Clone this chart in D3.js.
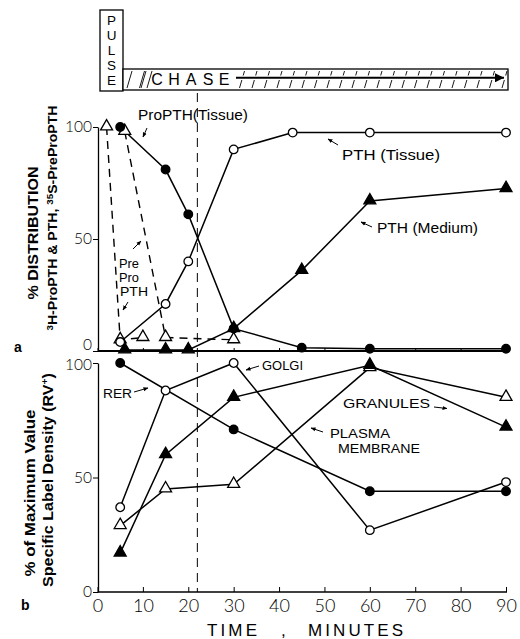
<!DOCTYPE html>
<html><head><meta charset="utf-8">
<script src="https://cdn.jsdelivr.net/npm/d3@7"></script>
<style>body{margin:0;background:#fff}svg{display:block}</style>
</head><body><svg id="c" width="520" height="639"></svg>
<script>
// ---------- data ----------
const xTicks = [0,10,20,30,40,50,60,70,80,90];
const yTicks = [0,50,100];
// panel a
const proPTH_t = [5,15,20,30,45,60,90];
const proPTH_v = [100,81,61,10,1.5,1,1];
const pthTissue_t = [5,15,20,30,43,60,90];
const pthTissue_v = [4,21,40,90,97.5,97.5,97.5];
const pthMedium_t = [6,15,20,30,45,60,90];
const pthMedium_v = [0.5,0.5,0.5,10,36,67,72.5];
const prePro1_t = [2,5,10];
const prePro1_v = [100,5,6];
const prePro2_t = [6,15,30];
const prePro2_v = [98,6,5];
// panel b
const bTimes = [5,15,30,60,90];
const rer_t = [5,30,60,90];
const rer_v = [100,71,44,44];
const golgi_v = [37,88,100,27,48];
const plasma_v = [17,60,85,99,72];
const granules_v = [29,45,47,98,85];
const chaseMark = 22;

// ---------- setup ----------
const svg = d3.select("#c");
const x = d3.scaleLinear().domain([0,90]).range([97.5,506]);
const ya = d3.scaleLinear().domain([0,100]).range([351,127]);
const yb = d3.scaleLinear().domain([0,100]).range([592,363]);
const sans = "'Liberation Sans', Arial, sans-serif";
const light = "Lato, 'DejaVu Sans', sans-serif";

const defs = svg.append("defs");
defs.append("marker").attr("id","ah").attr("viewBox","0 0 10 10")
  .attr("refX",9).attr("refY",5).attr("markerWidth",5).attr("markerHeight",5)
  .attr("orient","auto").append("path").attr("d","M0,1L10,5L0,9Z").attr("fill","#000");
defs.append("marker").attr("id","big").attr("viewBox","0 0 10 10")
  .attr("refX",10).attr("refY",5).attr("markerWidth",16).attr("markerHeight",9)
  .attr("markerUnits","userSpaceOnUse")
  .attr("orient","auto").append("path").attr("d","M0,0L10,5L0,10Z").attr("fill","#000");

// ---------- pulse / chase ----------
const hdr = svg.append("g");
hdr.append("rect").attr("x",100).attr("y",10).attr("width",23).attr("height",81)
  .attr("fill","#fff").attr("stroke","#000").attr("stroke-width",1.3);
["P","U","L","S","E"].forEach((c,i)=>{
  hdr.append("text").attr("x",111.5).attr("y",25+i*15).attr("text-anchor","middle")
    .attr("font-family",sans).attr("font-size",13.5).text(c);
});
hdr.append("rect").attr("x",123).attr("y",69).attr("width",385).attr("height",21)
  .attr("fill","#fff").attr("stroke","#000").attr("stroke-width",1.3);
const hatch = hdr.append("g").attr("stroke","#000").attr("stroke-width",0.9);
d3.range(127,503,12.5).forEach(h=>{
  if (h>150 && h<232) return;
  hatch.append("line").attr("x1",h).attr("y1",88).attr("x2",h+5).attr("y2",71);
});
hdr.append("rect").attr("x",236).attr("y",75.5).attr("width",270).attr("height",4.5).attr("fill","#fff");
[["C",157],["H",174],["A",191],["S",208],["E",224]].forEach(([c,px])=>{
  hdr.append("text").attr("x",px).attr("y",85).attr("text-anchor","middle")
    .attr("font-family",sans).attr("font-size",16).text(c);
});
[141,147].forEach(h=>hatch.append("line").attr("x1",h).attr("y1",88).attr("x2",h+5).attr("y2",71));
hdr.append("line").attr("x1",236).attr("y1",77.8).attr("x2",504).attr("y2",77.8)
  .attr("stroke","#000").attr("stroke-width",2).attr("marker-end","url(#big)");

// ---------- chase line ----------
svg.append("line").attr("x1",x(chaseMark)).attr("x2",x(chaseMark))
  .attr("y1",93).attr("y2",592).attr("stroke","#000").attr("stroke-width",1)
  .attr("stroke-dasharray","9,6");

// ---------- axes ----------
function yAxis(scale, shift){
  const g = svg.append("g").attr("transform","translate(98,0)")
    .call(d3.axisLeft(scale).tickValues(yTicks).tickSize(5).tickPadding(1).tickSizeOuter(0));
  g.select(".domain").attr("stroke-width",1.3);
  g.selectAll("text").attr("font-family",light).attr("font-weight",300).attr("font-size",15.5).attr("fill","#000")
    .attr("transform",d=>`translate(0,${shift(d)})`);
  return g;
}
yAxis(ya, d=>d===0?-6:0);
yAxis(yb, d=>d===100?2:0);
const xa = svg.append("g").attr("transform","translate(0,351)")
  .call(d3.axisTop(x).tickValues(xTicks).tickSize(3).tickFormat("").tickSizeOuter(0));
xa.select(".domain").attr("stroke-width",2.2).attr("d","M98,0H507");
const xb = svg.append("g").attr("transform","translate(0,592)")
  .call(d3.axisBottom(x).tickValues(xTicks).tickSize(0).tickPadding(7).tickSizeOuter(0));
xb.select(".domain").attr("stroke-width",1.5).attr("d","M98,0H507");
xb.selectAll("text").attr("font-family",light).attr("font-weight",300).attr("font-size",18).attr("fill","#000");
xb.selectAll(".tick").append("line").attr("y1",0).attr("y2",-5).attr("stroke","#000");

// ---------- series ----------
function series(ts, vs, y, opt){
  const pts = ts.map((t,i)=>[x(t), y(vs[i])]);
  svg.append("path").attr("d", d3.line()(pts)).attr("fill","none").attr("stroke","#000")
    .attr("stroke-width",opt.w||1.5).attr("stroke-dasharray",opt.dash||null);
  return pts;
}
function markers(pts, shape, filled){
  const sym = d3.symbol().type(shape==="tri"?d3.symbolTriangle:d3.symbolCircle).size(shape==="tri"?62:58);
  svg.append("g").selectAll("path").data(pts).join("path")
    .attr("transform",d=>`translate(${d[0]},${d[1]+(shape==="tri"?-0.5:0)})`)
    .attr("d",sym()).attr("fill",filled?"#000":"#fff").attr("stroke","#000").attr("stroke-width",1.3);
}
// panel a
const pp1 = series(prePro1_t, prePro1_v, ya, {dash:"8,6", w:1.4});
const pp2 = series(prePro2_t, prePro2_v, ya, {dash:"8,6", w:1.4});
const pro = series(proPTH_t, proPTH_v, ya, {});
const pthT = series(pthTissue_t, pthTissue_v, ya, {});
const pthM = series(pthMedium_t, pthMedium_v, ya, {});
markers(pthM, "tri", true);
markers(pp1, "tri", false);
markers(pp2, "tri", false);
markers(pthT, "circ", false);
markers(pro, "circ", true);
// panel b
const rer = series(rer_t, rer_v, yb, {});
const gol = series(bTimes, golgi_v, yb, {});
const pla = series(bTimes, plasma_v, yb, {});
const gra = series(bTimes, granules_v, yb, {});
markers(gra, "tri", false);
markers(pla, "tri", true);
markers(gol, "circ", false);
markers(rer, "circ", true);

// ---------- annotations ----------
function label(txt, px, py, size, len){
  const t = svg.append("text").attr("x",px).attr("y",py).attr("font-family",sans)
    .attr("font-size",size).text(txt);
  if (len) t.attr("textLength",len).attr("lengthAdjust","spacingAndGlyphs");
  return t;
}
function arrow(x1,y1,x2,y2){
  svg.append("line").attr("x1",x1).attr("y1",y1).attr("x2",x2).attr("y2",y2)
    .attr("stroke","#000").attr("stroke-width",1).attr("marker-end","url(#ah)");
}
label("ProPTH(Tissue)",138,120,14,110);
arrow(147,128,143,137);
label("PTH (Tissue)",342,160,14,98);
arrow(338,145,328,139);
label("PTH (Medium)",377,233,14,101);
arrow(372,227,361,222);
label("Pre",119,268,13,20);
label("Pro",119,282,13,20);
label("PTH",120,296,13,28);
arrow(133,249,141,241);
arrow(128,302,123,310);
label("RER",103,398,13,29);
arrow(134,392,148,388);
label("GOLGI",262,370,13,41);
arrow(259,366,246,370);
label("GRANULES",343,408,13,87);
arrow(434,407,447,408.5);
label("PLASMA",330,438,13,60);
label("MEMBRANE",338,453,13,82);
arrow(323,432,311,428);

// ---------- axis titles ----------
function vtext(px, py, size, len){
  const t = svg.append("text").attr("transform",`translate(${px},${py}) rotate(-90)`)
    .attr("text-anchor","middle").attr("font-family","'Liberation Sans Narrow','Liberation Sans',sans-serif")
    .attr("font-weight","bold").attr("font-size",size);
  if (len) t.attr("textLength",len).attr("lengthAdjust","spacingAndGlyphs");
  return t;
}
vtext(38,233,14,133).text("% DISTRIBUTION");
const l2 = vtext(57,218,13,225);
l2.append("tspan").attr("font-size",9).attr("dy",-4).text("3");
l2.append("tspan").attr("dy",4).text("H-ProPTH & PTH, ");
l2.append("tspan").attr("font-size",9).attr("dy",-4).text("35");
l2.append("tspan").attr("dy",4).text("S-PreProPTH");
vtext(35,493,14,167).text("% of Maximum Value");
const l4 = vtext(53,480,14,214);
l4.append("tspan").text("Specific  Label Density (RV");
l4.append("tspan").attr("font-size",9).attr("dy",-5).text("+");
l4.append("tspan").attr("dy",5).text(")");

svg.append("text").attr("x",14).attr("y",352).attr("font-family",sans).attr("font-weight","bold").attr("font-size",14).text("a");
svg.append("text").attr("x",21).attr("y",610).attr("font-family",sans).attr("font-weight","bold").attr("font-size",14).text("b");

// x title
svg.append("text").attr("x",207).attr("y",636).attr("font-family",sans).attr("font-size",17)
  .attr("textLength",50).attr("lengthAdjust","spacing").text("TIME");
svg.append("text").attr("x",281).attr("y",636).attr("font-family",sans).attr("font-size",17).text(",");
svg.append("text").attr("x",308).attr("y",636).attr("font-family",sans).attr("font-size",17)
  .attr("textLength",95).attr("lengthAdjust","spacing").text("MINUTES");
</script></body></html>
